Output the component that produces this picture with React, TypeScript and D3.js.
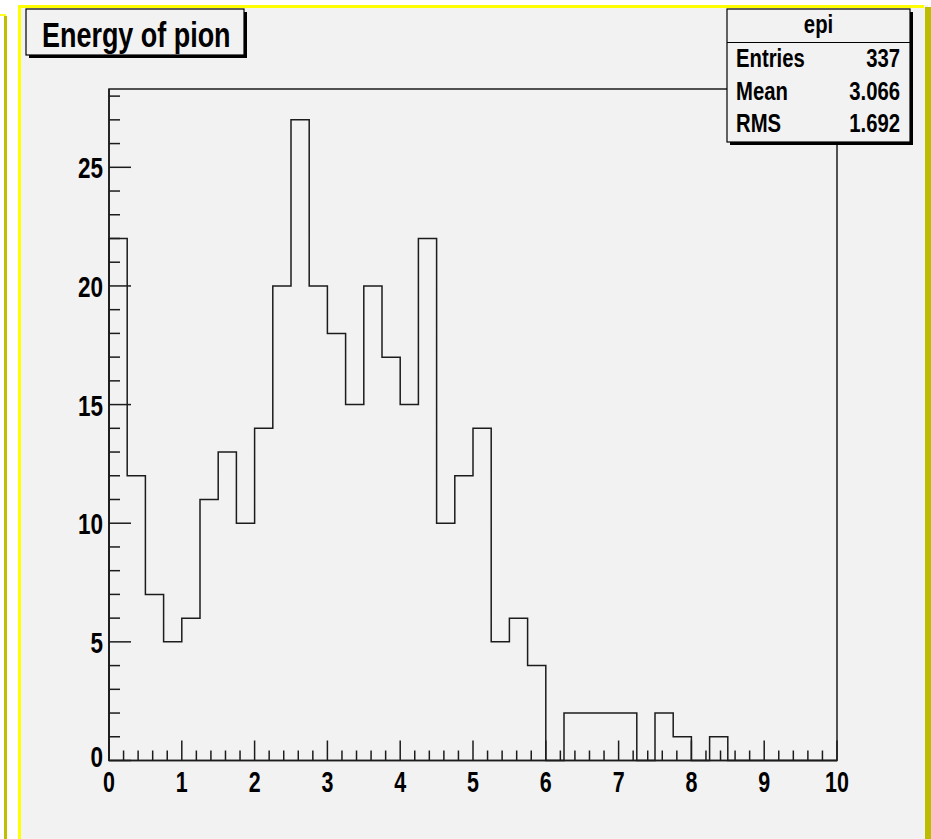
import React from 'react';
import * as d3 from 'd3';

// ---- data ----
const binCounts = [22, 12, 7, 5, 6, 11, 13, 10, 14, 20, 27, 20, 18, 15, 20, 17, 15, 22, 10, 12, 14, 5, 6, 4, 0, 2, 2, 2, 2, 0, 2, 1, 0, 1, 0, 0, 0, 0, 0, 0];
const xRangeVals = [0, 10];
const yRangeVals = [0, 28.3];
const xMajorTicks = [0, 1, 2, 3, 4, 5, 6, 7, 8, 9, 10];
const yMajorTicks = [0, 5, 10, 15, 20, 25];
const titleText = 'Energy of pion';
const statsName = 'epi';
const statsLabels = ['Entries', 'Mean', 'RMS'];
const statsValues = ['337', '3.066', '1.692'];

// ---- layout ----
const W = 931;
const H = 839;
const FRAME = { left: 109, right: 837, top: 89, bottom: 760.5 };
const FONT = '"Liberation Sans", Arial, Helvetica, sans-serif';
const PAD_BG = '#f2f2f2';
const LINE = '#1c1c1c';

function CText(props: { x: number; y: number; size: number; sx: number; anchor?: string; children: React.ReactNode }) {
  const { x, y, size, sx, anchor = 'start', children } = props;
  return (
    <text
      transform={`translate(${x},${y}) scale(${sx},1)`}
      textAnchor={anchor as any}
      fontFamily={FONT}
      fontWeight="bold"
      fontSize={size}
      fill="#000"
    >
      {children}
    </text>
  );
}

export default function App() {
  const x = d3.scaleLinear().domain(xRangeVals).range([FRAME.left, FRAME.right]);
  const y = d3.scaleLinear().domain(yRangeVals).range([FRAME.bottom, FRAME.top]);

  const nb = binCounts.length;
  const bw = (xRangeVals[1] - xRangeVals[0]) / nb;
  const pts: [number, number][] = [[xRangeVals[0], 0]];
  binCounts.forEach((v, i) => {
    const lo = xRangeVals[0] + i * bw;
    pts.push([lo, v]);
    pts.push([lo + bw, v]);
  });
  pts.push([xRangeVals[1], 0]);
  const histPath = d3.line<[number, number]>().x((d) => x(d[0])).y((d) => y(d[1]))(pts) || '';

  const xMinor = d3.range(0, 10.0001, 0.2).filter((v) => Math.abs(v - Math.round(v)) > 1e-6);
  const yMinor = d3.range(0, 28.3, 1).filter((v) => v % 5 !== 0);

  // stats box
  const SB = { x0: 727, x1: 910, y0: 9, y1: 142, hdr: 42.5 };
  const rowBase = [66.5, 99.5, 131.5];

  return (
    <svg width={W} height={H} style={{ position: 'absolute', left: 0, top: 0, background: '#fff' }}>
      {/* neighbour pad edge */}
      <rect x={0} y={14} width={6} height={2} fill="#ffff20" />
      <rect x={4} y={16} width={3} height={H - 16} fill="#bfbf00" />
      {/* main pad */}
      <rect x={18} y={5} width={910} height={H - 5} fill={PAD_BG} />
      <rect x={18} y={5} width={906} height={3} fill="#ffff00" />
      <rect x={18} y={5} width={3} height={H - 5} fill="#ffff00" />
      <rect x={925} y={7} width={6} height={H - 7} fill="#bcbc00" />

      {/* frame */}
      <rect
        x={FRAME.left}
        y={FRAME.top}
        width={FRAME.right - FRAME.left}
        height={FRAME.bottom - FRAME.top}
        fill={PAD_BG}
        stroke={LINE}
        strokeWidth={1.5}
      />

      {/* histogram */}
      <path d={histPath} fill="none" stroke={LINE} strokeWidth={1.5} />

      {/* x axis */}
      <line x1={FRAME.left} x2={FRAME.right} y1={FRAME.bottom} y2={FRAME.bottom} stroke={LINE} strokeWidth={1.6} />
      {xMajorTicks.map((t) => (
        <line key={'xM' + t} x1={x(t)} x2={x(t)} y1={FRAME.bottom} y2={FRAME.bottom - 20} stroke={LINE} strokeWidth={1.5} />
      ))}
      {xMinor.map((t, i) => (
        <line key={'xm' + i} x1={x(t)} x2={x(t)} y1={FRAME.bottom} y2={FRAME.bottom - 10} stroke={LINE} strokeWidth={1.5} />
      ))}
      {xMajorTicks.map((t) => (
        <CText key={'xl' + t} x={x(t)} y={792} size={29} sx={0.74} anchor="middle">
          {String(t)}
        </CText>
      ))}

      {/* y axis */}
      <line x1={FRAME.left} x2={FRAME.left} y1={FRAME.top} y2={FRAME.bottom} stroke={LINE} strokeWidth={1.6} />
      {yMajorTicks.map((t) => (
        <line key={'yM' + t} x1={FRAME.left} x2={FRAME.left + 22} y1={y(t)} y2={y(t)} stroke={LINE} strokeWidth={1.5} />
      ))}
      {yMinor.map((t, i) => (
        <line key={'ym' + i} x1={FRAME.left} x2={FRAME.left + 11} y1={y(t)} y2={y(t)} stroke={LINE} strokeWidth={1.5} />
      ))}
      {yMajorTicks.map((t) => (
        <CText key={'yl' + t} x={103} y={Math.min(y(t) + 11, 767)} size={30} sx={0.75} anchor="end">
          {String(t)}
        </CText>
      ))}

      {/* title box */}
      <rect x={29} y={12} width={218} height={46} fill="#000" />
      <rect x={26} y={9} width={218} height={46} fill={PAD_BG} stroke="#000" strokeWidth={1.2} />
      <CText x={42} y={47} size={35} sx={0.77}>
        {titleText}
      </CText>

      {/* stats box */}
      <rect x={SB.x0 + 3} y={SB.y0 + 3} width={SB.x1 - SB.x0} height={SB.y1 - SB.y0} fill="#000" />
      <rect x={SB.x0} y={SB.y0} width={SB.x1 - SB.x0} height={SB.y1 - SB.y0} fill={PAD_BG} stroke="#000" strokeWidth={1.2} />
      <line x1={SB.x0} x2={SB.x1} y1={SB.hdr} y2={SB.hdr} stroke="#000" strokeWidth={1.2} />
      <CText x={(SB.x0 + SB.x1) / 2} y={33} size={26} sx={0.78} anchor="middle">
        {statsName}
      </CText>
      {statsLabels.map((l, i) => (
        <CText key={'sl' + i} x={736} y={rowBase[i]} size={26} sx={0.78}>
          {l}
        </CText>
      ))}
      {statsValues.map((v, i) => (
        <CText key={'sv' + i} x={900} y={rowBase[i]} size={26} sx={0.78} anchor="end">
          {v}
        </CText>
      ))}
    </svg>
  );
}
